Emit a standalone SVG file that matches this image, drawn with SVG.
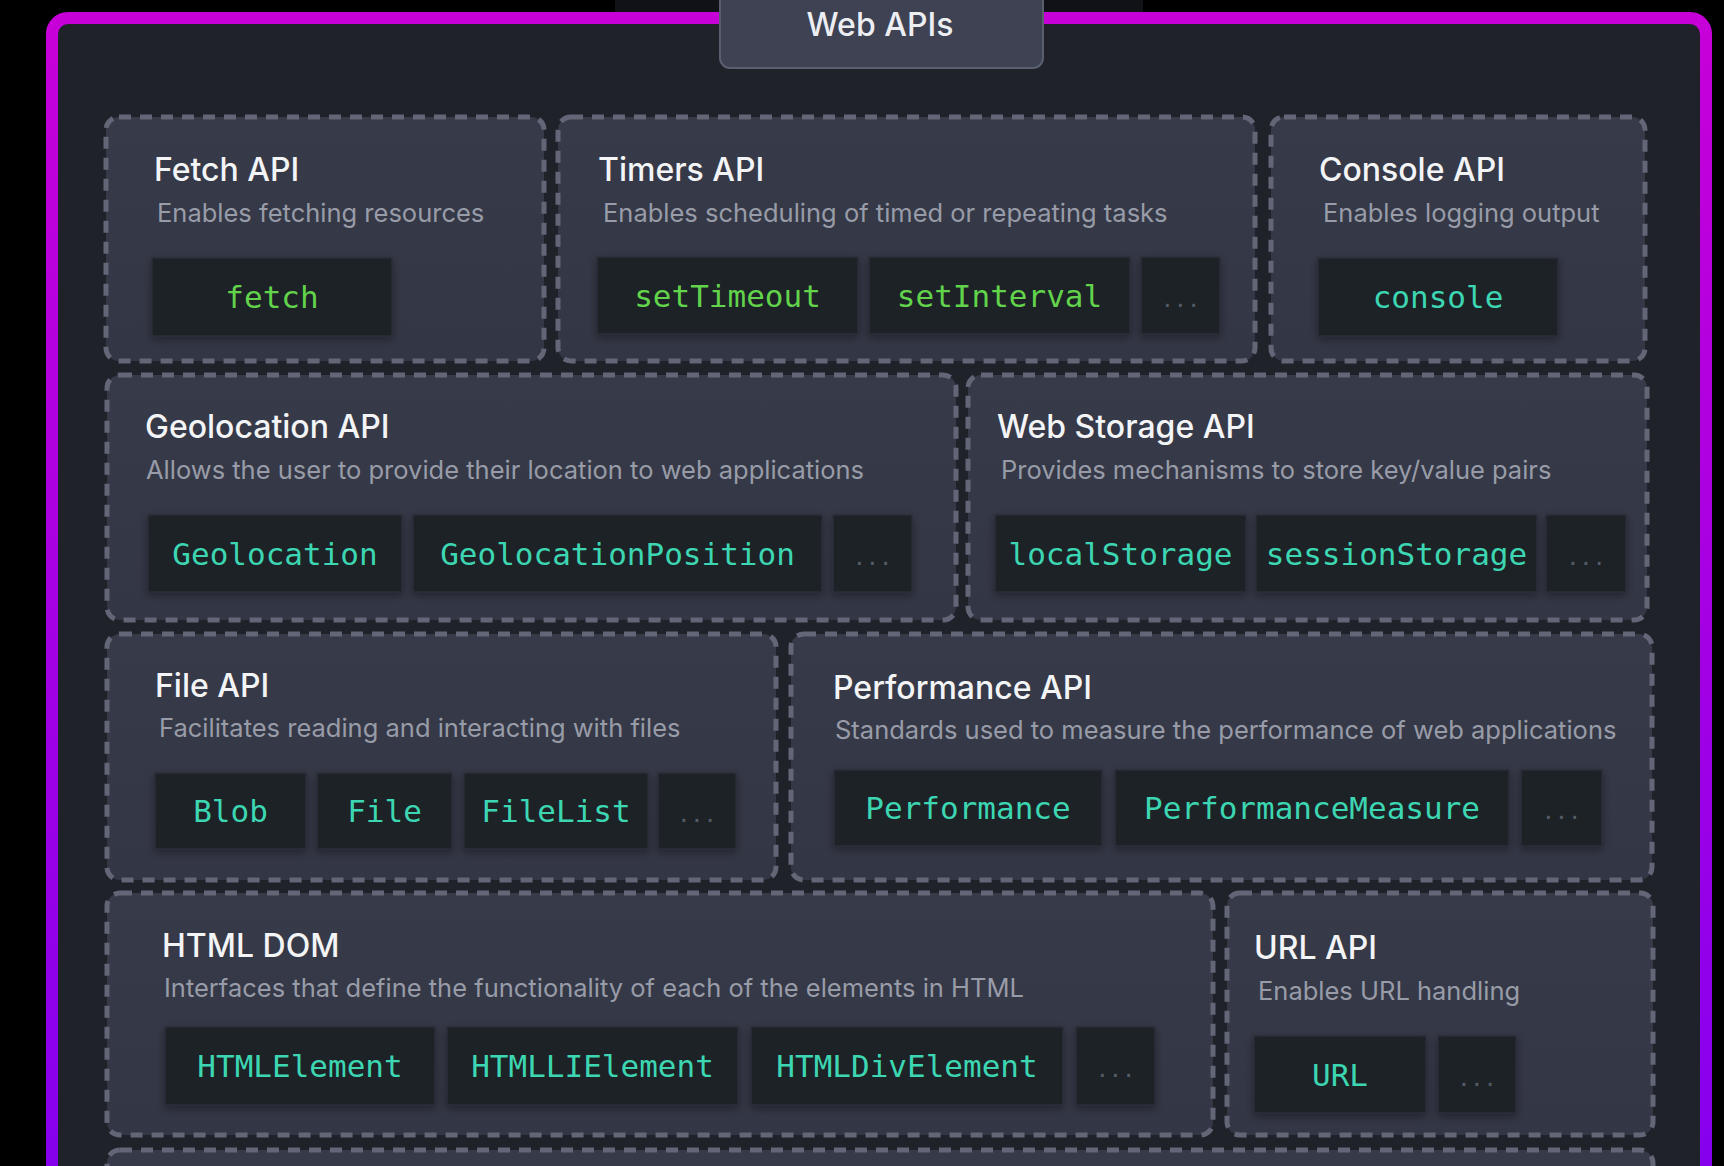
<svg xmlns="http://www.w3.org/2000/svg" width="1724" height="1166" viewBox="0 0 1724 1166">
<defs>
<linearGradient id="pg" x1="0" y1="0" x2="0" y2="1166" gradientUnits="userSpaceOnUse">
<stop offset="0" stop-color="#c800d8"/>
<stop offset="1" stop-color="#8600ee"/>
</linearGradient>
<linearGradient id="cardg" x1="0" y1="0" x2="0" y2="1">
<stop offset="0" stop-color="#373a48"/>
<stop offset="1" stop-color="#333644"/>
</linearGradient>
<filter id="sh" x="-10%" y="-10%" width="120%" height="130%">
<feDropShadow dx="0" dy="3" stdDeviation="4" flood-color="#000" flood-opacity="0.35"/>
</filter>
</defs>
<style>
.card{fill:url(#cardg);stroke:#626676;stroke-width:5;stroke-dasharray:12 9;}
.title{font-family:Inter,"Liberation Sans",sans-serif;font-size:32px;font-weight:500;fill:#f3f4f6;}
.sub{font-family:Inter,"Liberation Sans",sans-serif;font-size:25.5px;fill:#989ca8;}
.chip{fill:#1e2028;stroke:#2c2f38;stroke-width:1.5;filter:url(#sh);}
.code{font-family:"DejaVu Sans Mono","Liberation Mono",monospace;font-size:31px;text-anchor:middle;}
.g{fill:#62d34b;}
.t{fill:#3dd6b2;}
.dots{fill:#565b68;font-size:22px;}
</style>
<rect x="0" y="0" width="1724" height="1166" fill="#000"/>
<rect x="615" y="0" width="528" height="14" fill="#111217"/>
<rect id="frame" x="52" y="18" width="1654" height="1220" rx="16" fill="#20222a" stroke="url(#pg)" stroke-width="12"/>
<g id="title">
<rect x="720" y="-12" width="323" height="80" rx="10" fill="#3e4252" stroke="#5a5f70" stroke-width="2"/>
<text x="880" y="36" text-anchor="middle" font-family="Inter,'Liberation Sans',sans-serif" font-size="32" font-weight="500" fill="#eceef2">Web APIs</text>
</g>
<g id="connectors"/>
<g id="fetch">
<rect class="card" x="106" y="117" width="438" height="244" rx="13"/>
<text class="title" x="154" y="181">Fetch API</text>
<text class="sub" x="157" y="222">Enables fetching resources</text>
<rect class="chip" x="152" y="258" width="240" height="78"/>
<text class="code g" x="272" y="308">fetch</text>
</g>
<g id="timers">
<rect class="card" x="558" y="117" width="697" height="244" rx="13"/>
<text class="title" x="598" y="181">Timers API</text>
<text class="sub" x="603" y="222">Enables scheduling of timed or repeating tasks</text>
<rect class="chip" x="597" y="257" width="261" height="77"/>
<text class="code g" x="727.5" y="307">setTimeout</text>
<rect class="chip" x="869" y="257" width="261" height="77"/>
<text class="code g" x="999.5" y="307">setInterval</text>
<rect class="chip" x="1141" y="257" width="79" height="77"/>
<text class="code dots" x="1180.5" y="307">...</text>
</g>
<g id="console">
<rect class="card" x="1271" y="117" width="374" height="244" rx="13"/>
<text class="title" x="1319" y="181">Console API</text>
<text class="sub" x="1323" y="222">Enables logging output</text>
<rect class="chip" x="1318" y="258" width="240" height="78"/>
<text class="code t" x="1438" y="308">console</text>
</g>
<g id="geolocation">
<rect class="card" x="107" y="375" width="849" height="245" rx="13"/>
<text class="title" x="145" y="438">Geolocation API</text>
<text class="sub" x="146" y="479">Allows the user to provide their location to web applications</text>
<rect class="chip" x="148" y="515" width="254" height="77"/>
<text class="code t" x="275" y="565">Geolocation</text>
<rect class="chip" x="413" y="515" width="409" height="77"/>
<text class="code t" x="617.5" y="565">GeolocationPosition</text>
<rect class="chip" x="833" y="515" width="79" height="77"/>
<text class="code dots" x="872.5" y="565">...</text>
</g>
<g id="webstorage">
<rect class="card" x="968" y="375" width="679" height="245" rx="13"/>
<text class="title" x="997" y="438">Web Storage API</text>
<text class="sub" x="1001" y="479">Provides mechanisms to store key/value pairs</text>
<rect class="chip" x="995" y="515" width="251" height="77"/>
<text class="code t" x="1120.5" y="565">localStorage</text>
<rect class="chip" x="1256" y="515" width="281" height="77"/>
<text class="code t" x="1396.5" y="565">sessionStorage</text>
<rect class="chip" x="1546" y="515" width="80" height="77"/>
<text class="code dots" x="1586" y="565">...</text>
</g>
<g id="file">
<rect class="card" x="107" y="634" width="669" height="246" rx="13"/>
<text class="title" x="155" y="697">File API</text>
<text class="sub" x="159" y="737">Facilitates reading and interacting with files</text>
<rect class="chip" x="155" y="773" width="151" height="76"/>
<text class="code t" x="230.5" y="822">Blob</text>
<rect class="chip" x="317" y="773" width="135" height="76"/>
<text class="code t" x="384.5" y="822">File</text>
<rect class="chip" x="464" y="773" width="184" height="76"/>
<text class="code t" x="556" y="822">FileList</text>
<rect class="chip" x="658" y="773" width="78" height="76"/>
<text class="code dots" x="697" y="822">...</text>
</g>
<g id="performance">
<rect class="card" x="791" y="634" width="861" height="246" rx="13"/>
<text class="title" x="833" y="699">Performance API</text>
<text class="sub" x="835" y="739">Standards used to measure the performance of web applications</text>
<rect class="chip" x="834" y="770" width="268" height="76"/>
<text class="code t" x="968" y="819">Performance</text>
<rect class="chip" x="1115" y="770" width="394" height="76"/>
<text class="code t" x="1312" y="819">PerformanceMeasure</text>
<rect class="chip" x="1521" y="770" width="81" height="76"/>
<text class="code dots" x="1561.5" y="819">...</text>
</g>
<g id="htmldom">
<rect class="card" x="107" y="893" width="1106" height="242" rx="13"/>
<text class="title" x="162" y="957">HTML DOM</text>
<text class="sub" x="164" y="997">Interfaces that define the functionality of each of the elements in HTML</text>
<rect class="chip" x="165" y="1027" width="270" height="78"/>
<text class="code t" x="300" y="1077">HTMLElement</text>
<rect class="chip" x="447" y="1027" width="291" height="78"/>
<text class="code t" x="592.5" y="1077">HTMLLIElement</text>
<rect class="chip" x="751" y="1027" width="312" height="78"/>
<text class="code t" x="907" y="1077">HTMLDivElement</text>
<rect class="chip" x="1076" y="1027" width="79" height="78"/>
<text class="code dots" x="1115.5" y="1077">...</text>
</g>
<g id="url">
<rect class="card" x="1227" y="893" width="426" height="242" rx="13"/>
<text class="title" x="1254" y="959">URL API</text>
<text class="sub" x="1258" y="1000">Enables URL handling</text>
<rect class="chip" x="1254" y="1036" width="172" height="77"/>
<text class="code t" x="1340" y="1086">URL</text>
<rect class="chip" x="1438" y="1036" width="78" height="77"/>
<text class="code dots" x="1477" y="1086">...</text>
</g>
<g id="next-row">
<rect class="card" x="107" y="1150" width="1546" height="120" rx="13"/>
</g>
</svg>
